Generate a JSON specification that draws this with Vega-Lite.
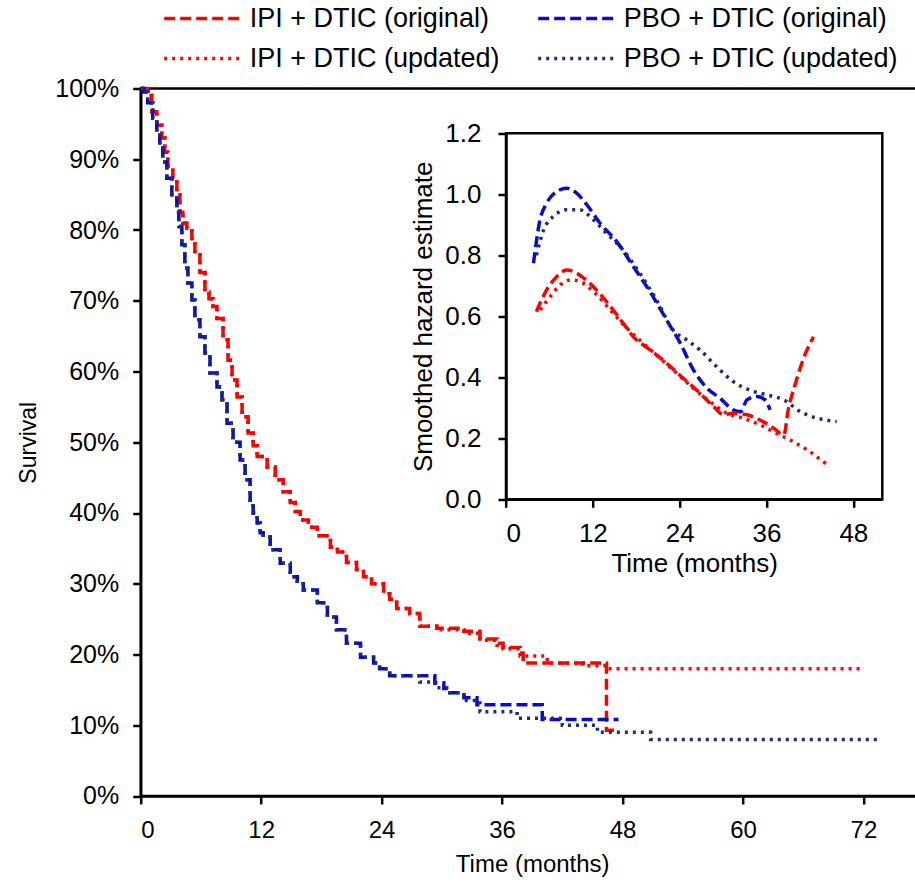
{
  "$schema": "https://vega.github.io/schema/vega-lite/v6.json",
  "autosize": {"type": "none"},
  "padding": {"left": 140.7, "top": 88.5, "right": 0, "bottom": 91},
  "width": 783,
  "height": 707.5,
  "background": "white",
  "config": {
    "view": {"stroke": "black", "strokeWidth": 2.5},
    "font": "Liberation Sans",
    "axis": {"grid": false, "domainColor": "black", "domainWidth": 2.5, "tickColor": "black", "tickWidth": 2.5, "labelColor": "black", "titleColor": "black", "titleFontWeight": "normal", "labelFont": "Liberation Sans", "titleFont": "Liberation Sans"}
  },
  "datasets": {
    "km": [
      {"series": "IPI + DTIC (original)", "t": 0, "s": 1.0},
      {"series": "IPI + DTIC (original)", "t": 0.7, "s": 0.99},
      {"series": "IPI + DTIC (original)", "t": 1.1, "s": 0.967},
      {"series": "IPI + DTIC (original)", "t": 1.6, "s": 0.948},
      {"series": "IPI + DTIC (original)", "t": 2.1, "s": 0.93},
      {"series": "IPI + DTIC (original)", "t": 2.4, "s": 0.91},
      {"series": "IPI + DTIC (original)", "t": 2.7, "s": 0.89},
      {"series": "IPI + DTIC (original)", "t": 3.2, "s": 0.873},
      {"series": "IPI + DTIC (original)", "t": 3.6, "s": 0.85},
      {"series": "IPI + DTIC (original)", "t": 3.9, "s": 0.825},
      {"series": "IPI + DTIC (original)", "t": 4.2, "s": 0.81},
      {"series": "IPI + DTIC (original)", "t": 4.6, "s": 0.803},
      {"series": "IPI + DTIC (original)", "t": 5.1, "s": 0.783},
      {"series": "IPI + DTIC (original)", "t": 5.4, "s": 0.765},
      {"series": "IPI + DTIC (original)", "t": 5.9, "s": 0.74},
      {"series": "IPI + DTIC (original)", "t": 6.4, "s": 0.712},
      {"series": "IPI + DTIC (original)", "t": 6.8, "s": 0.703},
      {"series": "IPI + DTIC (original)", "t": 7.2, "s": 0.692},
      {"series": "IPI + DTIC (original)", "t": 7.6, "s": 0.675},
      {"series": "IPI + DTIC (original)", "t": 8.2, "s": 0.645},
      {"series": "IPI + DTIC (original)", "t": 8.7, "s": 0.616},
      {"series": "IPI + DTIC (original)", "t": 9.1, "s": 0.588},
      {"series": "IPI + DTIC (original)", "t": 9.6, "s": 0.564},
      {"series": "IPI + DTIC (original)", "t": 10.1, "s": 0.536},
      {"series": "IPI + DTIC (original)", "t": 10.7, "s": 0.513},
      {"series": "IPI + DTIC (original)", "t": 11.2, "s": 0.495},
      {"series": "IPI + DTIC (original)", "t": 11.6, "s": 0.48},
      {"series": "IPI + DTIC (original)", "t": 12.6, "s": 0.465},
      {"series": "IPI + DTIC (original)", "t": 13.4, "s": 0.447},
      {"series": "IPI + DTIC (original)", "t": 14.2, "s": 0.43},
      {"series": "IPI + DTIC (original)", "t": 14.9, "s": 0.415},
      {"series": "IPI + DTIC (original)", "t": 15.4, "s": 0.402},
      {"series": "IPI + DTIC (original)", "t": 15.9, "s": 0.39},
      {"series": "IPI + DTIC (original)", "t": 16.7, "s": 0.38},
      {"series": "IPI + DTIC (original)", "t": 17.6, "s": 0.368},
      {"series": "IPI + DTIC (original)", "t": 18.9, "s": 0.352},
      {"series": "IPI + DTIC (original)", "t": 19.6, "s": 0.345},
      {"series": "IPI + DTIC (original)", "t": 20.5, "s": 0.33},
      {"series": "IPI + DTIC (original)", "t": 21.5, "s": 0.32},
      {"series": "IPI + DTIC (original)", "t": 22.2, "s": 0.31},
      {"series": "IPI + DTIC (original)", "t": 23.0, "s": 0.30},
      {"series": "IPI + DTIC (original)", "t": 24.2, "s": 0.286},
      {"series": "IPI + DTIC (original)", "t": 24.8, "s": 0.278},
      {"series": "IPI + DTIC (original)", "t": 25.5, "s": 0.265},
      {"series": "IPI + DTIC (original)", "t": 26.8, "s": 0.258},
      {"series": "IPI + DTIC (original)", "t": 27.8, "s": 0.24},
      {"series": "IPI + DTIC (original)", "t": 29.5, "s": 0.237},
      {"series": "IPI + DTIC (original)", "t": 32.2, "s": 0.233},
      {"series": "IPI + DTIC (original)", "t": 33.8, "s": 0.222},
      {"series": "IPI + DTIC (original)", "t": 35.5, "s": 0.216},
      {"series": "IPI + DTIC (original)", "t": 36.1, "s": 0.21},
      {"series": "IPI + DTIC (original)", "t": 37.8, "s": 0.202},
      {"series": "IPI + DTIC (original)", "t": 38.1, "s": 0.188},
      {"series": "IPI + DTIC (original)", "t": 46.4, "s": 0.093},
      {"series": "IPI + DTIC (original)", "t": 47.5, "s": 0.093},

      {"series": "IPI + DTIC (updated)", "t": 0, "s": 1.0},
      {"series": "IPI + DTIC (updated)", "t": 0.7, "s": 0.99},
      {"series": "IPI + DTIC (updated)", "t": 1.1, "s": 0.967},
      {"series": "IPI + DTIC (updated)", "t": 1.6, "s": 0.948},
      {"series": "IPI + DTIC (updated)", "t": 2.1, "s": 0.93},
      {"series": "IPI + DTIC (updated)", "t": 2.4, "s": 0.91},
      {"series": "IPI + DTIC (updated)", "t": 2.7, "s": 0.89},
      {"series": "IPI + DTIC (updated)", "t": 3.2, "s": 0.873},
      {"series": "IPI + DTIC (updated)", "t": 3.6, "s": 0.85},
      {"series": "IPI + DTIC (updated)", "t": 3.9, "s": 0.825},
      {"series": "IPI + DTIC (updated)", "t": 4.2, "s": 0.81},
      {"series": "IPI + DTIC (updated)", "t": 4.6, "s": 0.803},
      {"series": "IPI + DTIC (updated)", "t": 5.1, "s": 0.783},
      {"series": "IPI + DTIC (updated)", "t": 5.4, "s": 0.765},
      {"series": "IPI + DTIC (updated)", "t": 5.9, "s": 0.74},
      {"series": "IPI + DTIC (updated)", "t": 6.4, "s": 0.712},
      {"series": "IPI + DTIC (updated)", "t": 6.8, "s": 0.703},
      {"series": "IPI + DTIC (updated)", "t": 7.2, "s": 0.692},
      {"series": "IPI + DTIC (updated)", "t": 7.6, "s": 0.675},
      {"series": "IPI + DTIC (updated)", "t": 8.2, "s": 0.645},
      {"series": "IPI + DTIC (updated)", "t": 8.7, "s": 0.616},
      {"series": "IPI + DTIC (updated)", "t": 9.1, "s": 0.588},
      {"series": "IPI + DTIC (updated)", "t": 9.6, "s": 0.564},
      {"series": "IPI + DTIC (updated)", "t": 10.1, "s": 0.536},
      {"series": "IPI + DTIC (updated)", "t": 10.7, "s": 0.513},
      {"series": "IPI + DTIC (updated)", "t": 11.2, "s": 0.495},
      {"series": "IPI + DTIC (updated)", "t": 11.6, "s": 0.48},
      {"series": "IPI + DTIC (updated)", "t": 12.6, "s": 0.465},
      {"series": "IPI + DTIC (updated)", "t": 13.4, "s": 0.447},
      {"series": "IPI + DTIC (updated)", "t": 14.2, "s": 0.43},
      {"series": "IPI + DTIC (updated)", "t": 14.9, "s": 0.415},
      {"series": "IPI + DTIC (updated)", "t": 15.4, "s": 0.402},
      {"series": "IPI + DTIC (updated)", "t": 15.9, "s": 0.39},
      {"series": "IPI + DTIC (updated)", "t": 16.7, "s": 0.38},
      {"series": "IPI + DTIC (updated)", "t": 17.6, "s": 0.368},
      {"series": "IPI + DTIC (updated)", "t": 18.9, "s": 0.352},
      {"series": "IPI + DTIC (updated)", "t": 19.6, "s": 0.345},
      {"series": "IPI + DTIC (updated)", "t": 20.5, "s": 0.33},
      {"series": "IPI + DTIC (updated)", "t": 21.5, "s": 0.32},
      {"series": "IPI + DTIC (updated)", "t": 22.2, "s": 0.31},
      {"series": "IPI + DTIC (updated)", "t": 23.0, "s": 0.30},
      {"series": "IPI + DTIC (updated)", "t": 24.2, "s": 0.286},
      {"series": "IPI + DTIC (updated)", "t": 24.8, "s": 0.278},
      {"series": "IPI + DTIC (updated)", "t": 25.5, "s": 0.265},
      {"series": "IPI + DTIC (updated)", "t": 26.8, "s": 0.258},
      {"series": "IPI + DTIC (updated)", "t": 27.8, "s": 0.24},
      {"series": "IPI + DTIC (updated)", "t": 29.5, "s": 0.235},
      {"series": "IPI + DTIC (updated)", "t": 32.2, "s": 0.23},
      {"series": "IPI + DTIC (updated)", "t": 33.8, "s": 0.22},
      {"series": "IPI + DTIC (updated)", "t": 35.5, "s": 0.213},
      {"series": "IPI + DTIC (updated)", "t": 36.1, "s": 0.208},
      {"series": "IPI + DTIC (updated)", "t": 37.8, "s": 0.198},
      {"series": "IPI + DTIC (updated)", "t": 40.5, "s": 0.188},
      {"series": "IPI + DTIC (updated)", "t": 44.0, "s": 0.184},
      {"series": "IPI + DTIC (updated)", "t": 46.5, "s": 0.18},
      {"series": "IPI + DTIC (updated)", "t": 71.9, "s": 0.18},

      {"series": "PBO + DTIC (original)", "t": 0, "s": 1.0},
      {"series": "PBO + DTIC (original)", "t": 0.3, "s": 0.995},
      {"series": "PBO + DTIC (original)", "t": 0.7, "s": 0.98},
      {"series": "PBO + DTIC (original)", "t": 1.2, "s": 0.958},
      {"series": "PBO + DTIC (original)", "t": 1.6, "s": 0.934},
      {"series": "PBO + DTIC (original)", "t": 1.9, "s": 0.916},
      {"series": "PBO + DTIC (original)", "t": 2.2, "s": 0.896},
      {"series": "PBO + DTIC (original)", "t": 2.6, "s": 0.873},
      {"series": "PBO + DTIC (original)", "t": 3.1, "s": 0.85},
      {"series": "PBO + DTIC (original)", "t": 3.6, "s": 0.825},
      {"series": "PBO + DTIC (original)", "t": 3.8, "s": 0.805},
      {"series": "PBO + DTIC (original)", "t": 4.1, "s": 0.779},
      {"series": "PBO + DTIC (original)", "t": 4.4, "s": 0.746},
      {"series": "PBO + DTIC (original)", "t": 4.7, "s": 0.725},
      {"series": "PBO + DTIC (original)", "t": 5.1, "s": 0.701},
      {"series": "PBO + DTIC (original)", "t": 5.4, "s": 0.673},
      {"series": "PBO + DTIC (original)", "t": 5.9, "s": 0.649},
      {"series": "PBO + DTIC (original)", "t": 6.4, "s": 0.626},
      {"series": "PBO + DTIC (original)", "t": 6.9, "s": 0.598},
      {"series": "PBO + DTIC (original)", "t": 7.6, "s": 0.578},
      {"series": "PBO + DTIC (original)", "t": 8.1, "s": 0.56},
      {"series": "PBO + DTIC (original)", "t": 8.6, "s": 0.527},
      {"series": "PBO + DTIC (original)", "t": 9.2, "s": 0.50},
      {"series": "PBO + DTIC (original)", "t": 9.9, "s": 0.475},
      {"series": "PBO + DTIC (original)", "t": 10.4, "s": 0.447},
      {"series": "PBO + DTIC (original)", "t": 10.9, "s": 0.418},
      {"series": "PBO + DTIC (original)", "t": 11.2, "s": 0.40},
      {"series": "PBO + DTIC (original)", "t": 11.6, "s": 0.386},
      {"series": "PBO + DTIC (original)", "t": 11.9, "s": 0.372},
      {"series": "PBO + DTIC (original)", "t": 12.2, "s": 0.366},
      {"series": "PBO + DTIC (original)", "t": 12.9, "s": 0.348},
      {"series": "PBO + DTIC (original)", "t": 13.9, "s": 0.329},
      {"series": "PBO + DTIC (original)", "t": 14.9, "s": 0.31},
      {"series": "PBO + DTIC (original)", "t": 15.6, "s": 0.30},
      {"series": "PBO + DTIC (original)", "t": 16.2, "s": 0.291},
      {"series": "PBO + DTIC (original)", "t": 17.6, "s": 0.273},
      {"series": "PBO + DTIC (original)", "t": 18.6, "s": 0.253},
      {"series": "PBO + DTIC (original)", "t": 19.5, "s": 0.235},
      {"series": "PBO + DTIC (original)", "t": 20.5, "s": 0.216},
      {"series": "PBO + DTIC (original)", "t": 21.9, "s": 0.196},
      {"series": "PBO + DTIC (original)", "t": 23.2, "s": 0.188},
      {"series": "PBO + DTIC (original)", "t": 23.8, "s": 0.18},
      {"series": "PBO + DTIC (original)", "t": 24.8, "s": 0.17},
      {"series": "PBO + DTIC (original)", "t": 29.3, "s": 0.16},
      {"series": "PBO + DTIC (original)", "t": 30.2, "s": 0.152},
      {"series": "PBO + DTIC (original)", "t": 30.8, "s": 0.146},
      {"series": "PBO + DTIC (original)", "t": 32.2, "s": 0.139},
      {"series": "PBO + DTIC (original)", "t": 33.5, "s": 0.129},
      {"series": "PBO + DTIC (original)", "t": 40.0, "s": 0.108},
      {"series": "PBO + DTIC (original)", "t": 47.6, "s": 0.108},

      {"series": "PBO + DTIC (updated)", "t": 0, "s": 1.0},
      {"series": "PBO + DTIC (updated)", "t": 0.3, "s": 0.995},
      {"series": "PBO + DTIC (updated)", "t": 0.7, "s": 0.98},
      {"series": "PBO + DTIC (updated)", "t": 1.2, "s": 0.958},
      {"series": "PBO + DTIC (updated)", "t": 1.6, "s": 0.934},
      {"series": "PBO + DTIC (updated)", "t": 1.9, "s": 0.916},
      {"series": "PBO + DTIC (updated)", "t": 2.2, "s": 0.896},
      {"series": "PBO + DTIC (updated)", "t": 2.6, "s": 0.873},
      {"series": "PBO + DTIC (updated)", "t": 3.1, "s": 0.85},
      {"series": "PBO + DTIC (updated)", "t": 3.6, "s": 0.825},
      {"series": "PBO + DTIC (updated)", "t": 3.8, "s": 0.805},
      {"series": "PBO + DTIC (updated)", "t": 4.1, "s": 0.779},
      {"series": "PBO + DTIC (updated)", "t": 4.4, "s": 0.746},
      {"series": "PBO + DTIC (updated)", "t": 4.7, "s": 0.725},
      {"series": "PBO + DTIC (updated)", "t": 5.1, "s": 0.701},
      {"series": "PBO + DTIC (updated)", "t": 5.4, "s": 0.673},
      {"series": "PBO + DTIC (updated)", "t": 5.9, "s": 0.649},
      {"series": "PBO + DTIC (updated)", "t": 6.4, "s": 0.626},
      {"series": "PBO + DTIC (updated)", "t": 6.9, "s": 0.598},
      {"series": "PBO + DTIC (updated)", "t": 7.6, "s": 0.578},
      {"series": "PBO + DTIC (updated)", "t": 8.1, "s": 0.56},
      {"series": "PBO + DTIC (updated)", "t": 8.6, "s": 0.527},
      {"series": "PBO + DTIC (updated)", "t": 9.2, "s": 0.50},
      {"series": "PBO + DTIC (updated)", "t": 9.9, "s": 0.475},
      {"series": "PBO + DTIC (updated)", "t": 10.4, "s": 0.447},
      {"series": "PBO + DTIC (updated)", "t": 10.9, "s": 0.418},
      {"series": "PBO + DTIC (updated)", "t": 11.2, "s": 0.40},
      {"series": "PBO + DTIC (updated)", "t": 11.6, "s": 0.386},
      {"series": "PBO + DTIC (updated)", "t": 11.9, "s": 0.372},
      {"series": "PBO + DTIC (updated)", "t": 12.2, "s": 0.366},
      {"series": "PBO + DTIC (updated)", "t": 12.9, "s": 0.348},
      {"series": "PBO + DTIC (updated)", "t": 13.9, "s": 0.329},
      {"series": "PBO + DTIC (updated)", "t": 14.9, "s": 0.31},
      {"series": "PBO + DTIC (updated)", "t": 15.6, "s": 0.30},
      {"series": "PBO + DTIC (updated)", "t": 16.2, "s": 0.291},
      {"series": "PBO + DTIC (updated)", "t": 17.6, "s": 0.273},
      {"series": "PBO + DTIC (updated)", "t": 18.6, "s": 0.253},
      {"series": "PBO + DTIC (updated)", "t": 19.5, "s": 0.235},
      {"series": "PBO + DTIC (updated)", "t": 20.5, "s": 0.216},
      {"series": "PBO + DTIC (updated)", "t": 21.9, "s": 0.196},
      {"series": "PBO + DTIC (updated)", "t": 23.2, "s": 0.188},
      {"series": "PBO + DTIC (updated)", "t": 23.8, "s": 0.18},
      {"series": "PBO + DTIC (updated)", "t": 24.8, "s": 0.17},
      {"series": "PBO + DTIC (updated)", "t": 27.8, "s": 0.161},
      {"series": "PBO + DTIC (updated)", "t": 29.3, "s": 0.153},
      {"series": "PBO + DTIC (updated)", "t": 30.8, "s": 0.146},
      {"series": "PBO + DTIC (updated)", "t": 32.2, "s": 0.135},
      {"series": "PBO + DTIC (updated)", "t": 33.8, "s": 0.119},
      {"series": "PBO + DTIC (updated)", "t": 37.5, "s": 0.11},
      {"series": "PBO + DTIC (updated)", "t": 42.0, "s": 0.10},
      {"series": "PBO + DTIC (updated)", "t": 45.5, "s": 0.09},
      {"series": "PBO + DTIC (updated)", "t": 50.8, "s": 0.08},
      {"series": "PBO + DTIC (updated)", "t": 73.4, "s": 0.08}
    ],
    "hz": [
      {"series": "PBO + DTIC (original)", "t": 3.8, "h": 0.774},
      {"series": "PBO + DTIC (original)", "t": 4.7, "h": 0.916},
      {"series": "PBO + DTIC (original)", "t": 5.6, "h": 0.97},
      {"series": "PBO + DTIC (original)", "t": 7.0, "h": 1.009},
      {"series": "PBO + DTIC (original)", "t": 8.4, "h": 1.02},
      {"series": "PBO + DTIC (original)", "t": 9.8, "h": 1.003},
      {"series": "PBO + DTIC (original)", "t": 11.2, "h": 0.965},
      {"series": "PBO + DTIC (original)", "t": 13.0, "h": 0.905},
      {"series": "PBO + DTIC (original)", "t": 15.3, "h": 0.845},
      {"series": "PBO + DTIC (original)", "t": 17.6, "h": 0.763},
      {"series": "PBO + DTIC (original)", "t": 19.9, "h": 0.681},
      {"series": "PBO + DTIC (original)", "t": 22.2, "h": 0.588},
      {"series": "PBO + DTIC (original)", "t": 24.1, "h": 0.511},
      {"series": "PBO + DTIC (original)", "t": 25.9, "h": 0.424},
      {"series": "PBO + DTIC (original)", "t": 27.8, "h": 0.364},
      {"series": "PBO + DTIC (original)", "t": 29.6, "h": 0.331},
      {"series": "PBO + DTIC (original)", "t": 31.4, "h": 0.293},
      {"series": "PBO + DTIC (original)", "t": 32.4, "h": 0.287},
      {"series": "PBO + DTIC (original)", "t": 33.3, "h": 0.326},
      {"series": "PBO + DTIC (original)", "t": 34.7, "h": 0.337},
      {"series": "PBO + DTIC (original)", "t": 35.8, "h": 0.326},
      {"series": "PBO + DTIC (original)", "t": 36.5, "h": 0.293},

      {"series": "PBO + DTIC (updated)", "t": 4.2, "h": 0.80},
      {"series": "PBO + DTIC (updated)", "t": 5.2, "h": 0.883},
      {"series": "PBO + DTIC (updated)", "t": 6.5, "h": 0.927},
      {"series": "PBO + DTIC (updated)", "t": 8.4, "h": 0.949},
      {"series": "PBO + DTIC (updated)", "t": 10.2, "h": 0.949},
      {"series": "PBO + DTIC (updated)", "t": 12.1, "h": 0.916},
      {"series": "PBO + DTIC (updated)", "t": 13.9, "h": 0.872},
      {"series": "PBO + DTIC (updated)", "t": 16.2, "h": 0.817},
      {"series": "PBO + DTIC (updated)", "t": 18.5, "h": 0.741},
      {"series": "PBO + DTIC (updated)", "t": 20.8, "h": 0.654},
      {"series": "PBO + DTIC (updated)", "t": 23.1, "h": 0.555},
      {"series": "PBO + DTIC (updated)", "t": 25.0, "h": 0.522},
      {"series": "PBO + DTIC (updated)", "t": 26.8, "h": 0.49},
      {"series": "PBO + DTIC (updated)", "t": 29.1, "h": 0.435},
      {"series": "PBO + DTIC (updated)", "t": 31.4, "h": 0.386},
      {"series": "PBO + DTIC (updated)", "t": 33.7, "h": 0.358},
      {"series": "PBO + DTIC (updated)", "t": 36.1, "h": 0.342},
      {"series": "PBO + DTIC (updated)", "t": 38.4, "h": 0.326},
      {"series": "PBO + DTIC (updated)", "t": 40.7, "h": 0.287},
      {"series": "PBO + DTIC (updated)", "t": 43.0, "h": 0.266},
      {"series": "PBO + DTIC (updated)", "t": 45.7, "h": 0.255},

      {"series": "IPI + DTIC (original)", "t": 4.2, "h": 0.615},
      {"series": "IPI + DTIC (original)", "t": 5.6, "h": 0.686},
      {"series": "IPI + DTIC (original)", "t": 7.0, "h": 0.73},
      {"series": "IPI + DTIC (original)", "t": 8.4, "h": 0.752},
      {"series": "IPI + DTIC (original)", "t": 9.8, "h": 0.741},
      {"series": "IPI + DTIC (original)", "t": 11.6, "h": 0.708},
      {"series": "IPI + DTIC (original)", "t": 13.9, "h": 0.648},
      {"series": "IPI + DTIC (original)", "t": 16.2, "h": 0.577},
      {"series": "IPI + DTIC (original)", "t": 17.6, "h": 0.533},
      {"series": "IPI + DTIC (original)", "t": 19.9, "h": 0.49},
      {"series": "IPI + DTIC (original)", "t": 22.2, "h": 0.446},
      {"series": "IPI + DTIC (original)", "t": 24.5, "h": 0.397},
      {"series": "IPI + DTIC (original)", "t": 26.8, "h": 0.348},
      {"series": "IPI + DTIC (original)", "t": 28.7, "h": 0.304},
      {"series": "IPI + DTIC (original)", "t": 30.1, "h": 0.277},
      {"series": "IPI + DTIC (original)", "t": 31.4, "h": 0.282},
      {"series": "IPI + DTIC (original)", "t": 33.3, "h": 0.277},
      {"series": "IPI + DTIC (original)", "t": 35.1, "h": 0.26},
      {"series": "IPI + DTIC (original)", "t": 37.0, "h": 0.233},
      {"series": "IPI + DTIC (original)", "t": 38.4, "h": 0.211},
      {"series": "IPI + DTIC (original)", "t": 39.0, "h": 0.293},
      {"series": "IPI + DTIC (original)", "t": 40.0, "h": 0.38},
      {"series": "IPI + DTIC (original)", "t": 41.4, "h": 0.479},
      {"series": "IPI + DTIC (original)", "t": 42.5, "h": 0.533},

      {"series": "IPI + DTIC (updated)", "t": 4.7, "h": 0.621},
      {"series": "IPI + DTIC (updated)", "t": 6.1, "h": 0.664},
      {"series": "IPI + DTIC (updated)", "t": 7.5, "h": 0.703},
      {"series": "IPI + DTIC (updated)", "t": 8.9, "h": 0.719},
      {"series": "IPI + DTIC (updated)", "t": 10.2, "h": 0.714},
      {"series": "IPI + DTIC (updated)", "t": 12.1, "h": 0.681},
      {"series": "IPI + DTIC (updated)", "t": 14.4, "h": 0.621},
      {"series": "IPI + DTIC (updated)", "t": 16.7, "h": 0.561},
      {"series": "IPI + DTIC (updated)", "t": 19.0, "h": 0.511},
      {"series": "IPI + DTIC (updated)", "t": 21.3, "h": 0.462},
      {"series": "IPI + DTIC (updated)", "t": 23.6, "h": 0.413},
      {"series": "IPI + DTIC (updated)", "t": 25.9, "h": 0.364},
      {"series": "IPI + DTIC (updated)", "t": 28.2, "h": 0.32},
      {"series": "IPI + DTIC (updated)", "t": 30.5, "h": 0.282},
      {"series": "IPI + DTIC (updated)", "t": 32.8, "h": 0.266},
      {"series": "IPI + DTIC (updated)", "t": 35.1, "h": 0.244},
      {"series": "IPI + DTIC (updated)", "t": 37.4, "h": 0.216},
      {"series": "IPI + DTIC (updated)", "t": 39.7, "h": 0.189},
      {"series": "IPI + DTIC (updated)", "t": 42.0, "h": 0.156},
      {"series": "IPI + DTIC (updated)", "t": 44.4, "h": 0.113}
    ],
    "frame": [{"x0": 0, "x1": 52, "y0": 0, "y1": 1.2}]
  },
  "layer": [
    {
      "data": {"name": "km"},
      "mark": {"type": "line", "interpolate": "step-after", "strokeWidth": 3.5},
      "encoding": {
        "x": {"field": "t", "type": "quantitative", "scale": {"domain": [0, 78], "nice": false},
          "axis": {"values": [0, 12, 24, 36, 48, 60, 72], "title": "Time (months)", "labelFontSize": 24, "titleFontSize": 24, "tickSize": 8, "labelPadding": 15, "titlePadding": 10, "domainWidth": 2.5}},
        "y": {"field": "s", "type": "quantitative", "scale": {"domain": [0, 1], "nice": false},
          "axis": {"values": [0, 0.1, 0.2, 0.3, 0.4, 0.5, 0.6, 0.7, 0.8, 0.9, 1.0], "format": ".0%", "title": "Survival", "labelFontSize": 25, "titleFontSize": 23, "tickSize": 8, "labelPadding": 14, "titlePadding": 14}},
        "color": {"field": "series", "type": "nominal",
          "scale": {"domain": ["IPI + DTIC (original)", "PBO + DTIC (original)", "IPI + DTIC (updated)", "PBO + DTIC (updated)"], "range": ["#FF0000", "#0A0ACC", "#FF0000", "#1C2E6E"]},
          "legend": {"title": null, "orient": "none", "direction": "horizontal", "legendX": 41, "legendY": -91, "columns": 2, "symbolType": "M-2,0H2", "symbolSize": 1482, "symbolStrokeWidth": 3.5, "labelFontSize": 27, "labelFont": "Liberation Sans", "labelColor": "black", "labelOffset": 26, "columnPadding": 31, "rowPadding": 6, "labelLimit": 400}},
        "strokeDash": {"field": "series", "type": "nominal",
          "scale": {"domain": ["IPI + DTIC (original)", "PBO + DTIC (original)", "IPI + DTIC (updated)", "PBO + DTIC (updated)"], "range": [[11, 5], [11, 5], [3, 5], [3, 5]]},
          "legend": {"title": null, "orient": "none", "direction": "horizontal", "legendX": 41, "legendY": -91, "columns": 2, "symbolType": "M-2,0H2", "symbolSize": 1482, "symbolStrokeWidth": 3.5, "labelFontSize": 27, "labelFont": "Liberation Sans", "labelColor": "black", "labelOffset": 26, "columnPadding": 31, "rowPadding": 6, "labelLimit": 400}}
      }
    },
    {
      "layer": [
        {
          "data": {"name": "frame"},
          "mark": {"type": "rect", "fill": null, "fillOpacity": 0, "stroke": "black", "strokeWidth": 2.5},
          "encoding": {
            "x": {"field": "x0", "type": "quantitative", "scale": {"domain": [0, 52], "range": [365.3, 741.6], "nice": false, "zero": false},
              "axis": {"orient": "bottom", "offset": -296.7, "values": [0, 12, 24, 36, 48], "title": "Time (months)", "labelFontSize": 26, "titleFontSize": 26, "tickSize": 8, "labelPadding": 13, "titlePadding": 4}},
            "x2": {"field": "x1"},
            "y": {"field": "y0", "type": "quantitative", "scale": {"domain": [0, 1.2], "range": [410.8, 44.8], "nice": false, "zero": false},
              "axis": {"orient": "left", "offset": -365.3, "values": [0, 0.2, 0.4, 0.6, 0.8, 1.0, 1.2], "format": ".1f", "title": "Smoothed hazard estimate", "labelFontSize": 26, "titleFontSize": 26, "tickSize": 8, "labelPadding": 17, "titlePadding": 8}},
            "y2": {"field": "y1"}
          }
        },
        {
          "data": {"name": "hz"},
          "mark": {"type": "line", "interpolate": "monotone", "strokeWidth": 3.5},
          "encoding": {
            "x": {"field": "t", "type": "quantitative"},
            "y": {"field": "h", "type": "quantitative"},
            "color": {"field": "series", "type": "nominal"},
            "strokeDash": {"field": "series", "type": "nominal"}
          }
        }
      ]
    }
  ],
  "resolve": {"scale": {"x": "independent", "y": "independent"}, "axis": {"x": "independent", "y": "independent"}}
}
